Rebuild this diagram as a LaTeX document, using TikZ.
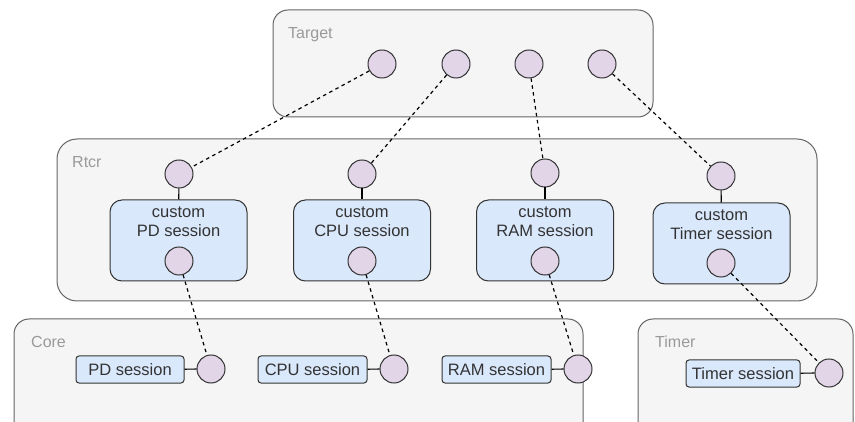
\documentclass[tikz,border=0pt]{standalone}
\usepackage{fontspec}
\setmainfont{Liberation Sans}
\definecolor{grpfill}{HTML}{F5F5F5}
\definecolor{grpdraw}{HTML}{666666}
\definecolor{grptext}{HTML}{9A9A9A}
\definecolor{bluefill}{HTML}{DAE8FC}
\definecolor{circfill}{HTML}{E1D5E7}
\definecolor{darkline}{HTML}{333333}
\tikzset{
  grp/.style={draw=grpdraw, fill=grpfill, line width=1pt, rectangle, inner sep=0pt},
  grplabel/.style={text=grptext, anchor=west, inner sep=0pt, font=\fontsize{16}{19}\selectfont},
  custombox/.style={draw=darkline, fill=bluefill, line width=1pt, rectangle, rounded corners=12pt, minimum width=137pt, minimum height=81pt, inner sep=0pt},
  sessbox/.style={draw=darkline, fill=bluefill, line width=1pt, rectangle, rounded corners=3pt, minimum height=27pt, inner sep=0pt, font=\fontsize{16.5}{19}\selectfont, text=darkline},
  boxtext/.style={align=center, inner sep=0pt, font=\fontsize{16.5}{19}\selectfont, text=darkline},
  port/.style={circle, draw=darkline, fill=circfill, line width=1pt, minimum size=28pt, inner sep=0pt},
  solidlink/.style={draw=black, line width=1.2pt},
  dashlink/.style={draw=black, line width=1.2pt, dash pattern=on 3.5pt off 3.5pt}
}
\begin{document}
\begin{tikzpicture}[x=1pt, y=-1pt]
\useasboundingbox (0,0) rectangle (855,422);
\clip (0,0) rectangle (855,422);
% groups
\node[grp, rounded corners=15pt, minimum width=380pt, minimum height=107pt] (target) at (463,63.5) {};
\node[grplabel] (targetlbl) at (288,35) {Target};
\node[grp, rounded corners=20pt, minimum width=760pt, minimum height=162pt] (rtcr) at (437,220) {};
\node[grplabel] (rtcrlbl) at (72,162) {Rtcr};
\node[grp, rounded corners=15pt, minimum width=569pt, minimum height=131pt] (core) at (298.5,384.5) {};
\node[grplabel] (corelbl) at (31,342) {Core};
\node[grp, rounded corners=15pt, minimum width=215pt, minimum height=131pt] (timergrp) at (745.5,384.5) {};
\node[grplabel] (timerlbl) at (655,342) {Timer};
% target ports
\node[port] (t1) at (382,64) {};
\node[port] (t2) at (456,64) {};
\node[port] (t3) at (529,64) {};
\node[port] (t4) at (602,64) {};
% rtcr custom boxes
\node[custombox] (cpd) at (178.5,240.5) {};
\node[custombox] (ccpu) at (362,240.5) {};
\node[custombox] (cram) at (545,240.5) {};
\node[custombox] (ctimer) at (721.5,243.5) {};
\node[boxtext] (cpdtxt) at (178.5,221.5) {custom\\PD session};
\node[boxtext] (ccputxt) at (362,221.5) {custom\\CPU session};
\node[boxtext] (cramtxt) at (545,221.5) {custom\\RAM session};
\node[boxtext] (ctimertxt) at (721.5,224.5) {custom\\Timer session};
% rtcr top ports
\node[port] (rpd) at (179,174) {};
\node[port] (rcpu) at (362,174) {};
\node[port] (rram) at (545,173) {};
\node[port] (rtimer) at (721,176) {};
% rtcr inner ports
\node[port] (ipd) at (179,261) {};
\node[port] (icpu) at (362,261) {};
\node[port] (iram) at (545,261) {};
\node[port] (itimer) at (721,263) {};
% core sessions
\node[sessbox, minimum width=108pt] (spd) at (130,369.5) {PD session};
\node[sessbox, minimum width=109pt] (scpu) at (312.5,369.5) {CPU session};
\node[sessbox, minimum width=109pt] (sram) at (496.5,369.5) {RAM session};
\node[sessbox, minimum width=114pt] (stimer) at (743,373.5) {Timer session};
\node[port] (ppd) at (211,369) {};
\node[port] (pcpu) at (394,369) {};
\node[port] (pram) at (578,369) {};
\node[port] (ptimer) at (829,373) {};
% solid links
\draw[solidlink] (rpd) -- (cpd);
\draw[solidlink] (rcpu) -- (ccpu);
\draw[solidlink] (rram) -- (cram);
\draw[solidlink] (rtimer) -- (ctimer);
\draw[solidlink] (spd) -- (ppd);
\draw[solidlink] (scpu) -- (pcpu);
\draw[solidlink] (sram) -- (pram);
\draw[solidlink] (stimer) -- (ptimer);
% dashed links
\draw[dashlink] (t1) -- (rpd);
\draw[dashlink] (t2) -- (rcpu);
\draw[dashlink] (t3) -- (rram);
\draw[dashlink] (t4) -- (rtimer);
\draw[dashlink] (ipd) -- (ppd);
\draw[dashlink] (icpu) -- (pcpu);
\draw[dashlink] (iram) -- (pram);
\draw[dashlink] (itimer) -- (ptimer);
\end{tikzpicture}
\end{document}
